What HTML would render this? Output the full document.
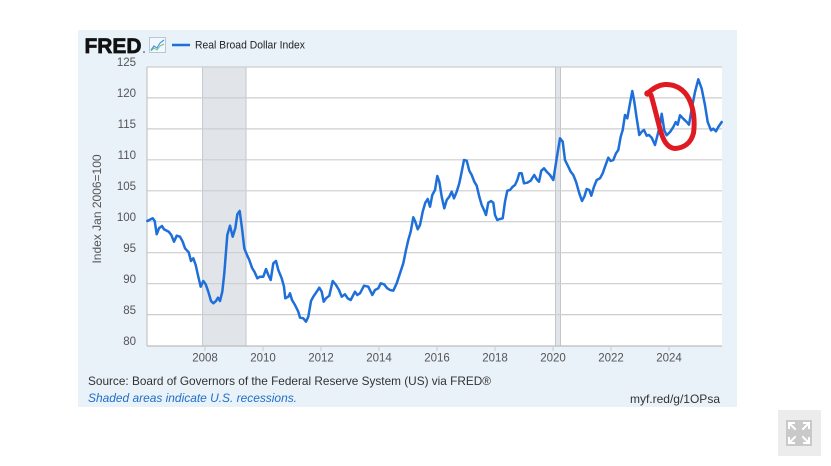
<!DOCTYPE html>
<html>
<head>
<meta charset="utf-8">
<style>
  html,body{margin:0;padding:0;background:#ffffff;}
  body{width:831px;height:466px;overflow:hidden;}
  svg{display:block;font-family:"Liberation Sans",Arial,sans-serif;}
</style>
</head>
<body>
<svg width="831" height="466" viewBox="0 0 831 466" xmlns="http://www.w3.org/2000/svg">
  <rect x="0" y="0" width="831" height="466" fill="#ffffff"/>
  <!-- panel -->
  <rect x="78" y="30" width="659" height="377" fill="#e9f1f9"/>

  <!-- header -->
  <text x="84.5" y="53" font-size="21" font-weight="bold" fill="#111" stroke="#111" stroke-width="0.7" textLength="57" lengthAdjust="spacingAndGlyphs">FRED</text>
  <circle cx="144" cy="52" r="0.8" fill="#333"/>
  <rect x="149.5" y="37.5" width="16" height="15" fill="#f4f7fb" stroke="#b8c6d8" stroke-width="1"/>
  <polyline points="151,50 154,46 157,48 160,43 164,40" fill="none" stroke="#4a90d9" stroke-width="1.1"/>
  <polyline points="151,51 154,48 157,50 160,46 164,44" fill="none" stroke="#6cc08a" stroke-width="1"/>
  <line x1="172" y1="45" x2="190" y2="45" stroke="#1e6fd9" stroke-width="2.5"/>
  <text x="195" y="48.5" font-size="11" fill="#222" textLength="110" lengthAdjust="spacingAndGlyphs">Real Broad Dollar Index</text>

  <!-- plot area -->
  <rect x="147" y="67" width="575" height="279" fill="#ffffff"/>
  <!-- recessions -->
  <rect x="202.6" y="67" width="43.4" height="279" fill="#e1e5ea"/>
  <line x1="202.6" y1="67" x2="202.6" y2="346" stroke="#c2c6cb" stroke-width="1"/>
  <line x1="246" y1="67" x2="246" y2="346" stroke="#c2c6cb" stroke-width="1"/>
  <rect x="555.5" y="67" width="5" height="279" fill="#e1e5ea"/>
  <line x1="555.5" y1="67" x2="555.5" y2="346" stroke="#c2c6cb" stroke-width="1"/>
  <line x1="560.5" y1="67" x2="560.5" y2="346" stroke="#c2c6cb" stroke-width="1"/>

  <!-- gridlines -->
  <g stroke="#cdcdcd" stroke-width="1.2">
    <line x1="147" y1="67" x2="722" y2="67"/>
    <line x1="147" y1="97.9" x2="722" y2="97.9"/>
    <line x1="147" y1="128.9" x2="722" y2="128.9"/>
    <line x1="147" y1="159.8" x2="722" y2="159.8"/>
    <line x1="147" y1="190.8" x2="722" y2="190.8"/>
    <line x1="147" y1="221.7" x2="722" y2="221.7"/>
    <line x1="147" y1="252.7" x2="722" y2="252.7"/>
    <line x1="147" y1="283.7" x2="722" y2="283.7"/>
    <line x1="147" y1="314.6" x2="722" y2="314.6"/>
  </g>
  <line x1="147" y1="346" x2="722" y2="346" stroke="#bdbdbd" stroke-width="1.3"/>
  <line x1="147" y1="67" x2="147" y2="346" stroke="#c4c4c4" stroke-width="1.2"/>
  <g stroke="#cccccc" stroke-width="1">
    <line x1="205" y1="346" x2="205" y2="351"/>
    <line x1="263" y1="346" x2="263" y2="351"/>
    <line x1="321" y1="346" x2="321" y2="351"/>
    <line x1="379" y1="346" x2="379" y2="351"/>
    <line x1="437" y1="346" x2="437" y2="351"/>
    <line x1="495" y1="346" x2="495" y2="351"/>
    <line x1="553" y1="346" x2="553" y2="351"/>
    <line x1="611" y1="346" x2="611" y2="351"/>
    <line x1="669" y1="346" x2="669" y2="351"/>
  </g>

  <!-- y tick labels -->
  <g font-size="11.5" fill="#555" text-anchor="end">
    <text x="136" y="66">125</text>
    <text x="136" y="97">120</text>
    <text x="136" y="128">115</text>
    <text x="136" y="159">110</text>
    <text x="136" y="190">105</text>
    <text x="136" y="221">100</text>
    <text x="136" y="252">95</text>
    <text x="136" y="283">90</text>
    <text x="136" y="314">85</text>
    <text x="136" y="345">80</text>
  </g>
  <text transform="translate(101,209) rotate(-90)" font-size="12" fill="#555" text-anchor="middle">Index Jan 2006=100</text>

  <!-- x tick labels -->
  <g font-size="11.5" fill="#555" text-anchor="middle">
    <text x="205" y="361.5">2008</text>
    <text x="263" y="361.5">2010</text>
    <text x="321" y="361.5">2012</text>
    <text x="379" y="361.5">2014</text>
    <text x="437" y="361.5">2016</text>
    <text x="495" y="361.5">2018</text>
    <text x="553" y="361.5">2020</text>
    <text x="611" y="361.5">2022</text>
    <text x="669" y="361.5">2024</text>
  </g>

  <!-- series -->
  <polyline fill="none" stroke="#1e6fd9" stroke-width="2.5" stroke-linejoin="round" stroke-linecap="round" points="147.3,221 152.7,218.3 154.7,221 156.7,234.3 159,228.3 162,226 164,229.3 168.7,231.7 171.3,235 174,241.7 176.7,235.7 180,236.7 182.7,241.7 185,248.3 188.7,252.3 191,261 193.3,258.3 195.7,265 198.3,276.7 200.7,286.7 203.3,281 205.7,284.3 208.3,291.7 211,301 213.3,303.3 216,301 218,297.7 220,301 222.3,291.7 224.3,273.3 227.3,235 230,225.7 232.7,236.7 235.3,228.3 237.3,214.3 239.7,211 242,228.3 244.3,248.3 246.7,254.3 249.3,260 252,267.7 254.7,272.3 257.3,278.3 260,276.7 263.3,276.7 266,269 268.3,275 270.7,280 273.3,263.3 276,261 278.3,270 281.7,278.3 284,286.7 285.3,298.3 288.3,296.7 290,293.3 292,300 295,305 298.3,311.7 300,317.7 303.3,318.3 306,321.7 308.3,316.7 311,301 313.3,296.7 316.7,291.7 319.3,287.7 321.7,291.7 323.7,301.7 326,298.3 329.3,295.7 332.7,281 336,285 339,290 341.7,296.7 345,294.3 347.7,298.3 350.7,300 355,291.7 357.3,295 360,293.3 364,285.7 368.3,286.7 372.3,295 375,290 378.3,288.3 380.7,283.3 384,284.3 387.3,288.3 390,290 393.3,290.7 396.7,283.3 400,273.3 403.3,263.3 406,250 408.3,240 410.7,231.7 413.3,217.3 415.3,221.7 417.7,229.3 420,225 422.7,211.7 425.3,202.7 427.7,199 430,206.7 432.3,195 435,190 437.3,176 439.3,181.7 441.7,196.7 444.3,208.3 446.7,200 449.3,196.7 451.7,191.7 454,198.3 456.7,191.7 459.3,183.3 461.7,171.7 464,160 466.7,160.7 469.3,170.7 471.7,175 474.3,181.7 476.7,185.7 479.3,196.7 481.7,205 484.3,210.7 486,215 488.3,202.7 491,201 493.3,202.7 495,215 497.3,220 500,219 502.7,218.3 505,201.7 507.3,190.7 510,190 512.7,186.7 515,185 517.3,180 519.3,173.3 521.7,173.3 524,183.3 527.3,182.7 530.7,180.7 532.7,177.3 534.3,175 536.7,179.3 539,181.7 541.3,170.7 544,168.3 546.7,171.7 550,175 553.3,180 556.7,158.3 560,138.3 562.7,141.7 565,160 568.3,166.7 570.7,171.7 573.3,175 576,181.7 579.3,193.3 582,201 584.3,196.7 586.7,189 589.3,190 591.3,195.7 594,186.7 596.7,180 600,178.3 602.7,173.3 605,166.7 608.3,157.7 610.7,161 613.3,160 616,153.3 618.3,150 620.7,136.7 622.7,130 625,115 627.3,118.3 630,103.3 632.3,91 634.3,101.7 636.7,118.3 639.3,135 641.7,131.7 644,130 646.7,135.7 649,135 651.7,137.7 655,145 660,125.3 661.7,113.7 664.3,130.3 666.7,135.3 670,132 673.3,127 675.7,122 677.7,124.7 680,115.3 683.3,118.7 686.7,122 689,124.7 691.7,108.7 695,92 698.3,79.3 701.7,88.7 705,105.3 707.7,122 711,130.3 713.3,128.7 716,131.3 718.3,127 721.7,122"/>

  <!-- red hand-drawn circle -->
  <path d="M647,94 C652,89 658,85 665,84.5 C675,84 684,89 689,99 C694,109 695,122 693.5,133 C691,143 684,148 675,148.5 C667,148 663,140 660,129 C657,118 654,105 651,95" fill="none" stroke="#e01a22" stroke-width="5" stroke-linecap="round" stroke-linejoin="round"/>
  <circle cx="647.5" cy="93.5" r="3.2" fill="#e01a22"/>

  <!-- footer -->
  <text x="88" y="385" font-size="12" fill="#333" textLength="403" lengthAdjust="spacingAndGlyphs">Source: Board of Governors of the Federal Reserve System (US) via FRED®</text>
  <text x="88" y="402" font-size="12" font-style="italic" fill="#1f6fc8" textLength="209" lengthAdjust="spacingAndGlyphs">Shaded areas indicate U.S. recessions.</text>
  <text x="720" y="403" font-size="12" fill="#333" text-anchor="end">myf.red/g/1OPsa</text>

  <!-- expand icon -->
  <rect x="778" y="410" width="43" height="46" fill="#ececec"/>
  <rect x="786" y="420" width="26" height="26" fill="#c9c9c9"/>
  <g stroke="#ffffff" stroke-width="2" fill="none" stroke-linecap="square">
    <polyline points="789,428 789,423 794,423"/>
    <line x1="789.5" y1="423.5" x2="795" y2="429"/>
    <polyline points="804,423 809,423 809,428"/>
    <line x1="808.5" y1="423.5" x2="803" y2="429"/>
    <polyline points="789,438 789,443 794,443"/>
    <line x1="789.5" y1="442.5" x2="795" y2="437"/>
    <polyline points="804,443 809,443 809,438"/>
    <line x1="808.5" y1="442.5" x2="803" y2="437"/>
  </g>
</svg>
</body>
</html>
